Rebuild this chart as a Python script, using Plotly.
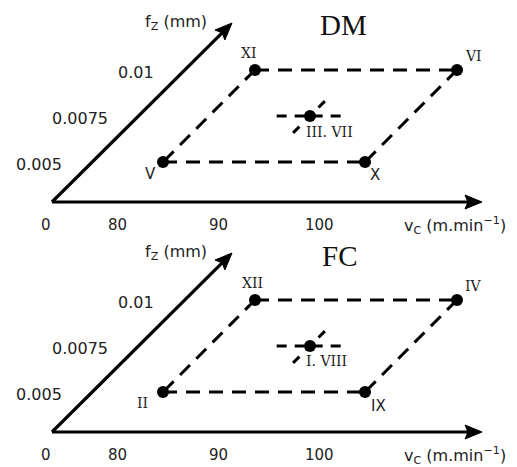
import math
import plotly.graph_objects as go

# ---------------- data ----------------
PANELS = ["DM", "FC"]
RUN_LABELS = {
    "DM": ["V", "X", "XI", "VI", "III. VII"],
    "FC": ["II", "IX", "XII", "IV", "I. VIII"],
}
RUN_VC = [80, 100, 80, 100, 90]          # cutting speed v_c (m/min)
RUN_FZ = [0.005, 0.005, 0.01, 0.01, 0.0075]  # feed per tooth f_z (mm)
VC_TICKS = [0, 80, 90, 100]
VC_TICK_TEXT = ["0", "80", "90", "100"]
FZ_TICKS = [0.005, 0.0075, 0.01]
FZ_TICK_TEXT = ["0.005", "0.0075", "0.01"]
CENTER_VC_SPAN = [86.7, 93.6]
CENTER_FZ_SPAN = [0.00658, 0.00842]

# ---------------- geometry (oblique, broken axes) ----------------
W, H = 517, 467
PAGE_MARGIN = 8
ORIGIN_X = 52
PANEL_OY = {"DM": 202, "FC": 432}
VC_AXIS_LEN = 430
FZ_AXIS_LEN = 180


def u(vc):
    return 0 if vc == 0 else 71 + (vc - 80) * 10.1


def w(fz):
    return 0 if fz == 0 else 40 + (fz - 0.005) * 18400


def proj(vc, fz, oy):
    return ORIGIN_X + u(vc) + w(fz), oy - w(fz)


SERIF = "DejaVu Serif"
SANS = "DejaVu Sans"
LABEL_STYLE = {
    "V": (-13, 12, "center", SANS, 15),
    "X": (10, 13, "center", SANS, 15),
    "XI": (-6, -17, "center", SERIF, 14),
    "VI": (16, -14, "center", SERIF, 14),
    "III. VII": (-6, 16, "left", SERIF, 14),
    "II": (-21, 11, "center", SERIF, 14),
    "IX": (13, 14, "center", SANS, 15),
    "XII": (-3, -17, "center", SERIF, 14),
    "IV": (16, -14, "center", SERIF, 14),
    "I. VIII": (-6, 15, "left", SERIF, 14),
}
TITLE_POS = {"DM": (343, 25), "FC": (339, 256)}

fig = go.Figure()
ann = []


def add_line(xs, ys, width=3, dash=None):
    fig.add_trace(go.Scatter(x=xs, y=ys, mode="lines", hoverinfo="skip",
                             line=dict(color="black", width=width, dash=dash)))


def add_arrow(x0, y0, x1, y1, L=17, Hw=7):
    dx, dy = x1 - x0, y1 - y0
    n = math.hypot(dx, dy)
    ux, uy = dx / n, dy / n
    px, py = -uy, ux
    bx, by = x1 - L * ux, y1 - L * uy
    add_line([x0, x1 - (L - 3) * ux], [y0, y1 - (L - 3) * uy], width=3.2)
    fig.add_trace(go.Scatter(
        x=[x1, bx + Hw * px, bx + 3 * ux, bx - Hw * px, x1],
        y=[y1, by + Hw * py, by + 3 * uy, by - Hw * py, y1],
        mode="lines", fill="toself", fillcolor="black",
        line=dict(color="black", width=1), hoverinfo="skip"))


for panel in PANELS:
    oy = PANEL_OY[panel]
    add_arrow(ORIGIN_X, oy, ORIGIN_X + VC_AXIS_LEN, oy)
    add_arrow(ORIGIN_X, oy, ORIGIN_X + FZ_AXIS_LEN, oy - FZ_AXIS_LEN + 1)

    pts = [proj(v, f, oy) for v, f in zip(RUN_VC, RUN_FZ)]
    V, X, XI, VI, C = pts
    dash = "14px,9px"
    add_line([V[0], X[0]], [V[1], X[1]], dash=dash)
    add_line([XI[0], VI[0]], [XI[1], VI[1]], dash=dash)
    add_line([XI[0], V[0]], [XI[1], V[1]], dash=dash)
    add_line([VI[0], X[0]], [VI[1], X[1]], dash=dash)
    c1 = proj(CENTER_VC_SPAN[0], RUN_FZ[4], oy)
    c2 = proj(CENTER_VC_SPAN[1], RUN_FZ[4], oy)
    add_line([c1[0], c2[0]], [c1[1], c2[1]], dash="10px,8px")
    d1 = proj(RUN_VC[4], CENTER_FZ_SPAN[0], oy)
    d2 = proj(RUN_VC[4], CENTER_FZ_SPAN[1], oy)
    add_line([d1[0], d2[0]], [d1[1], d2[1]], dash="9px,9px")

    fig.add_trace(go.Scatter(
        x=[p[0] for p in pts], y=[p[1] for p in pts], mode="markers",
        marker=dict(color="black", size=12), hoverinfo="skip"))

    for lab, (px_, py_) in zip(RUN_LABELS[panel], pts):
        dx, dy, anchor, fam, fs = LABEL_STYLE[lab]
        ann.append(dict(x=px_, y=py_, xshift=dx, yshift=-dy, text=lab,
                        showarrow=False, xanchor=anchor, yanchor="middle",
                        font=dict(family=fam, size=fs, color="#222")))

    for v, t in zip(VC_TICKS, VC_TICK_TEXT):
        x, _ = proj(v, 0, oy)
        ann.append(dict(x=x - 6, y=oy + 23, text=t, showarrow=False,
                        xanchor="center", yanchor="middle",
                        font=dict(family=SANS, size=15, color="#222")))
    for f, t in zip(FZ_TICKS, FZ_TICK_TEXT):
        x, y = proj(0, f, oy)
        ann.append(dict(x=x - 28, y=y + 2, text=t, showarrow=False,
                        xanchor="right", yanchor="middle",
                        font=dict(family=SANS, size=16, color="#222")))
    ann.append(dict(x=ORIGIN_X + FZ_AXIS_LEN - 23, y=oy - 180,
                    text="f<sub>Z</sub> (mm)", showarrow=False,
                    xanchor="right", yanchor="middle",
                    font=dict(family=SANS, size=16, color="#222")))
    ann.append(dict(x=ORIGIN_X + VC_AXIS_LEN + 26, y=oy + 23,
                    text="v<sub>C</sub> (m.min<sup>\u22121</sup>)", showarrow=False,
                    xanchor="right", yanchor="middle",
                    font=dict(family=SANS, size=16, color="#222")))
    tx, ty = TITLE_POS[panel]
    ann.append(dict(x=tx, y=ty, text=panel, showarrow=False,
                    xanchor="center", yanchor="middle",
                    font=dict(family="Liberation Serif", size=29, color="#111")))

# the page body has an 8px margin: make the plot cover exactly the visible
# window area so that axis units equal window pixels
fig.update_layout(
    width=W - PAGE_MARGIN, height=H - PAGE_MARGIN,
    margin=dict(l=0, r=0, t=0, b=0),
    paper_bgcolor="white", plot_bgcolor="white", showlegend=False,
    xaxis=dict(range=[PAGE_MARGIN, W], visible=False, fixedrange=True),
    yaxis=dict(range=[H, PAGE_MARGIN], visible=False, fixedrange=True),
    annotations=ann,
)
fig.write_html("out.html")
